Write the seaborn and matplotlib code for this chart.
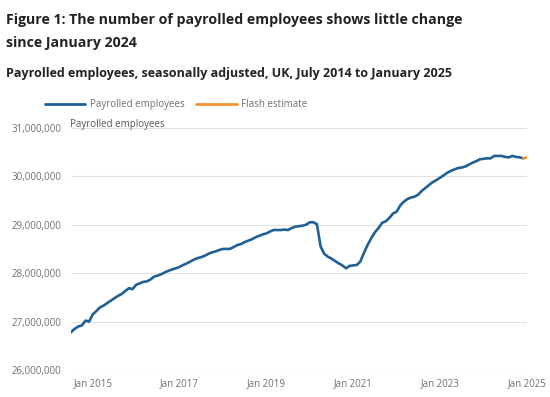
import pandas as pd
import matplotlib
matplotlib.use("Agg")
import matplotlib.pyplot as plt
import matplotlib.dates as mdates
import matplotlib.ticker as mticker
from matplotlib.lines import Line2D
import seaborn as sns

# Payrolled employees, millions, July 2014 to December 2024
employees_m = [
    26.78, 26.85, 26.90, 26.92, 27.02, 27.00,   # Jul-Dec 2014
    27.15, 27.22, 27.29, 27.33, 27.38, 27.43,   # 2015
    27.48, 27.53, 27.57, 27.63, 27.69, 27.67,
    27.76, 27.79, 27.82, 27.83, 27.87, 27.93,   # 2016
    27.95, 27.98, 28.02, 28.05, 28.08, 28.10,
    28.13, 28.17, 28.20, 28.24, 28.28, 28.31,   # 2017
    28.33, 28.36, 28.40, 28.43, 28.45, 28.48,
    28.50, 28.50, 28.50, 28.54, 28.58, 28.60,   # 2018
    28.64, 28.67, 28.70, 28.74, 28.77, 28.80,
    28.82, 28.86, 28.89, 28.89, 28.89, 28.90,   # 2019
    28.89, 28.93, 28.96, 28.97, 28.98, 29.00,
    29.05, 29.05, 29.01, 28.55, 28.40, 28.34,   # 2020
    28.30, 28.25, 28.20, 28.16, 28.10, 28.15,
    28.16, 28.17, 28.24, 28.42, 28.58, 28.72,   # 2021
    28.84, 28.93, 29.04, 29.07, 29.14, 29.23,
    29.27, 29.40, 29.47, 29.53, 29.56, 29.58,   # 2022
    29.62, 29.70, 29.76, 29.82, 29.88, 29.92,
    29.97, 30.02, 30.07, 30.11, 30.14, 30.17,   # 2023
    30.18, 30.20, 30.24, 30.28, 30.31, 30.35,
    30.36, 30.37, 30.37, 30.42, 30.42, 30.42,   # 2024
    30.40, 30.39, 30.42, 30.40, 30.39, 30.37,
]
months = pd.date_range("2014-07-01", "2024-12-01", freq="MS")

# Flash estimate for January 2025, joined to December 2024
flash_months = pd.to_datetime(["2024-12-01", "2025-01-01"])
flash_m = [30.37, 30.39]

tick_years = [2015, 2017, 2019, 2021, 2023, 2025]
y_ticks = [26e6, 27e6, 28e6, 29e6, 30e6, 31e6]

df = pd.DataFrame({"month": months, "employees": [v * 1e6 for v in employees_m]})
df_flash = pd.DataFrame({"month": flash_months, "employees": [v * 1e6 for v in flash_m]})

blue = "#206095"
orange = "#f39431"
grey_text = "#707070"

sns.set_style("white")
plt.rcParams["font.family"] = ["Open Sans", "DejaVu Sans"]

fig = plt.figure(figsize=(5.5, 3.97), dpi=100)
ax = fig.add_axes([0.129, 0.068, 0.829, 0.610])

sns.lineplot(data=df, x="month", y="employees", color=blue, linewidth=1.9, ax=ax)
sns.lineplot(data=df_flash, x="month", y="employees", color=orange, linewidth=1.9, ax=ax)

ax.set_xlim(pd.Timestamp("2014-07-01"), pd.Timestamp("2025-01-01"))
ax.set_ylim(26e6, 31e6)
ax.set_yticks(y_ticks)
ax.yaxis.set_major_formatter(mticker.FuncFormatter(lambda v, p: f"{v:,.0f}"))
ax.set_xticks([pd.Timestamp(f"{y}-01-01") for y in tick_years])
ax.xaxis.set_major_formatter(mdates.DateFormatter("Jan %Y"))
ax.set_xlabel("")
ax.set_ylabel("")

ax.grid(axis="y", color="#e1e1e1", linewidth=0.8)
ax.grid(axis="x", visible=False)
for s in ax.spines.values():
    s.set_visible(False)
ax.tick_params(axis="y", length=0, labelsize=7, labelcolor=grey_text, pad=7)
ax.tick_params(axis="x", length=4, width=0.8, color="#d0d0d0",
               labelsize=7, labelcolor=grey_text, pad=1.5)

ax.text(-0.003, 0.993, "Payrolled employees", transform=ax.transAxes,
        fontsize=7, color="#555555", ha="left", va="bottom")

fig.text(0.011, 0.949, "Figure 1: The number of payrolled employees shows little change",
         fontsize=10.15, fontweight="bold", color="#222222", va="center")
fig.text(0.011, 0.891, "since January 2024",
         fontsize=10.15, fontweight="bold", color="#222222", va="center")
fig.text(0.011, 0.815, "Payrolled employees, seasonally adjusted, UK, July 2014 to January 2025",
         fontsize=9.0, fontweight="bold", color="#222222", va="center")

handles = [Line2D([], [], color=blue, linewidth=2),
           Line2D([], [], color=orange, linewidth=2)]
fig.legend(handles, ["Payrolled employees", "Flash estimate"],
           loc="center left", bbox_to_anchor=(0.081, 0.737), ncol=2, frameon=False,
           fontsize=7, labelcolor=grey_text, handlelength=4.2, handletextpad=0.5,
           columnspacing=1.1, borderaxespad=0, borderpad=0)

fig.savefig("out.png", dpi=100)
